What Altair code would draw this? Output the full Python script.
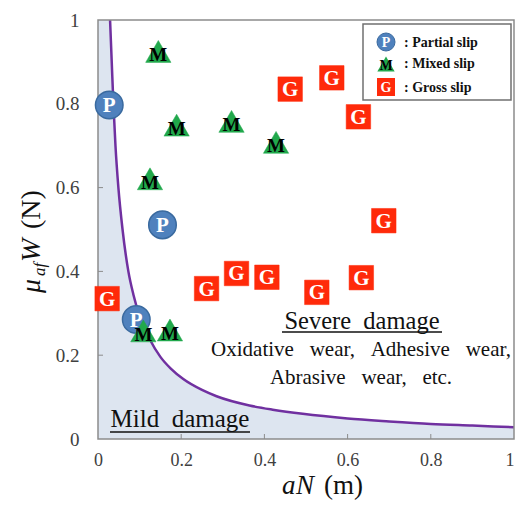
import altair as alt
import pandas as pd

# ---- data ----
partial_x = [0.027, 0.155, 0.092]
partial_y = [0.797, 0.511, 0.285]

mixed_x = [0.145, 0.189, 0.321, 0.428, 0.125, 0.109, 0.173]
mixed_y = [0.925, 0.749, 0.758, 0.708, 0.621, 0.258, 0.260]

gross_x = [0.022, 0.261, 0.333, 0.406, 0.526, 0.633, 0.462, 0.562, 0.626, 0.687]
gross_y = [0.335, 0.359, 0.395, 0.386, 0.350, 0.385, 0.835, 0.862, 0.769, 0.521]

curve_x = [0.029, 0.033, 0.037, 0.042, 0.049, 0.059, 0.073, 0.085, 0.100, 0.125,
           0.150, 0.175, 0.205, 0.250, 0.285, 0.364, 0.420, 0.492, 0.600, 0.700,
           0.800, 0.900, 1.000]
curve_y = [1.000, 0.900, 0.800, 0.700, 0.600, 0.500, 0.400, 0.345, 0.293, 0.237,
           0.196, 0.168, 0.143, 0.117, 0.102, 0.080, 0.070, 0.060, 0.049, 0.042,
           0.036, 0.032, 0.028]

tick_values = [0, 0.2, 0.4, 0.6, 0.8, 1]
inner_ticks = [0.2, 0.4, 0.6, 0.8]

legend_labels = [": Partial slip", ": Mixed slip", ": Gross slip"]

W, H = 416, 419
SERIF = "Liberation Serif"
FRAME = "#8c8c8c"
SP = " \u00a0"  # widened word gap

xs = alt.Scale(domain=[0, 1], nice=False, zero=False)
ys = alt.Scale(domain=[0, 1], nice=False, zero=False)

x_axis = alt.Axis(values=tick_values, format="~g", ticks=False, domain=False, grid=False,
                  labelFont=SERIF, labelFontSize=18, labelColor="#404040",
                  labelPadding=12, labelFlush=False, labelOverlap=False, title=None,
                  labelAlign={"condition": {"test": "datum.value >= 1", "value": "right"},
                              "value": "center"})
y_axis = alt.Axis(values=tick_values, format="~g", ticks=False, domain=False, grid=False,
                  labelFont=SERIF, labelFontSize=19, labelColor="#404040",
                  labelPadding=19, labelFlush=False, labelOverlap=False, title=None)


def X(field="x"):
    return alt.X(f"{field}:Q", scale=xs, axis=x_axis)


def Y(field="y"):
    return alt.Y(f"{field}:Q", scale=ys, axis=y_axis)


one = pd.DataFrame({"k": [0]})

area_df = pd.DataFrame({"x": [0.0] + curve_x, "y": [1.0] + curve_y})
curve_df = pd.DataFrame({"x": curve_x, "y": curve_y})

area = alt.Chart(area_df).mark_area(color="#dde5f0", interpolate="monotone", clip=True).encode(
    x=X(), y=Y())
curve = alt.Chart(curve_df).mark_line(color="#7030a0", strokeWidth=2.5,
                                      interpolate="monotone", clip=True).encode(x=X(), y=Y())

xt_df = pd.DataFrame({"x": inner_ticks})
yt_df = pd.DataFrame({"y": inner_ticks})
xticks = alt.Chart(xt_df).mark_rule(color=FRAME, strokeWidth=1).encode(
    x=X(), y=alt.value(H), y2=alt.value(H - 5))
yticks = alt.Chart(yt_df).mark_rule(color=FRAME, strokeWidth=1).encode(
    y=Y(), x=alt.value(0), x2=alt.value(5))

frame = alt.Chart(one).mark_rect(fillOpacity=0, stroke=FRAME, strokeWidth=1.5).encode(
    x=alt.value(0), x2=alt.value(W), y=alt.value(0), y2=alt.value(H))

p_df = pd.DataFrame({"x": partial_x, "y": partial_y})
m_df = pd.DataFrame({"x": mixed_x, "y": mixed_y})
g_df = pd.DataFrame({"x": gross_x, "y": gross_y})

p_sym = alt.Chart(p_df).mark_point(shape="circle", filled=True, size=760, fill="#4f81bd",
                                   stroke="#3a6a9f", strokeWidth=1.5, opacity=1).encode(x=X(), y=Y())
p_txt = alt.Chart(p_df).mark_text(text="P", font=SERIF, fontWeight="bold", fontSize=21,
                                  color="white", baseline="middle", dy=1).encode(x=X(), y=Y())
m_sym = alt.Chart(m_df).mark_point(shape="triangle-up", filled=True, size=640, fill="#21a84c",
                                   stroke="#21a84c", strokeWidth=0.5, opacity=1).encode(x=X(), y=Y())
m_txt = alt.Chart(m_df).mark_text(text="M", font=SERIF, fontWeight="bold", fontSize=19,
                                  color="black", baseline="middle", dy=4).encode(x=X(), y=Y())
g_sym = alt.Chart(g_df).mark_point(shape="square", filled=True, size=600, fill="#ff2a0a",
                                   stroke="#ff2a0a", strokeWidth=0.5, opacity=1).encode(x=X(), y=Y())
g_txt = alt.Chart(g_df).mark_text(text="G", font=SERIF, fontWeight="bold", fontSize=21,
                                  color="white", baseline="middle", dy=1).encode(x=X(), y=Y())


def label(text, px, py, size, color="#111111", **kw):
    return alt.Chart(one).mark_text(text=text, font=SERIF, fontSize=size, color=color,
                                    **kw).encode(x=alt.value(px), y=alt.value(py))


def hrule(x1, x2, py):
    return alt.Chart(one).mark_rule(color="#111111", strokeWidth=1.3).encode(
        x=alt.value(x1), x2=alt.value(x2), y=alt.value(py))


annots = [
    label(f"Severe{SP}damage", 264, 302, 24.5, baseline="middle", align="center"),
    hrule(184, 344, 312),
    label(f"Oxidative{SP}\u00a0wear,{SP}\u00a0Adhesive{SP}\u00a0wear,", 263, 330, 21,
          baseline="middle", align="center"),
    label(f"Abrasive{SP}\u00a0wear,{SP}\u00a0etc.", 263, 358, 21, baseline="middle",
          align="center"),
    label(f"Mild{SP}damage", 82, 399, 25, baseline="middle", align="center"),
    hrule(12, 152, 412),
]

# legend box
leg_box = alt.Chart(one).mark_rect(fill="white", stroke="#707070", strokeWidth=1.5).encode(
    x=alt.value(265), x2=alt.value(413), y=alt.value(4), y2=alt.value(80))
leg_y = [22, 43, 67]
LX = 288
leg = [
    alt.Chart(one).mark_point(shape="circle", filled=True, size=324, fill="#4f81bd",
                              stroke="#3a6a9f", strokeWidth=1, opacity=1).encode(
        x=alt.value(LX), y=alt.value(leg_y[0])),
    label("P", LX, leg_y[0] + 1, 14, color="white", baseline="middle", align="center",
          fontWeight="bold"),
    alt.Chart(one).mark_point(shape="triangle-up", filled=True, size=300, fill="#21a84c",
                              opacity=1).encode(x=alt.value(LX), y=alt.value(leg_y[1] + 1)),
    label("M", LX, leg_y[1] + 3, 14, color="black", baseline="middle", align="center",
          fontWeight="bold"),
    alt.Chart(one).mark_point(shape="square", filled=True, size=324, fill="#ff2a0a",
                              opacity=1).encode(x=alt.value(LX), y=alt.value(leg_y[2])),
    label("G", LX, leg_y[2] + 1, 14, color="white", baseline="middle", align="center",
          fontWeight="bold"),
]
for i, t in enumerate(legend_labels):
    leg.append(label(t, LX + 18, leg_y[i] + 1, 14, baseline="middle", align="left",
                     fontWeight="bold"))

# axis titles (with italic / subscript pieces)
titles = [
    label("a", 184, 474, 27, baseline="alphabetic", align="left", fontStyle="italic"),
    label("N", 198, 474, 27, baseline="alphabetic", align="left", fontStyle="italic"),
    label("(m)", 226, 474, 27, baseline="alphabetic", align="left"),
    label("\u03bc", -58, 273, 28, baseline="alphabetic", align="left", angle=270,
          fontStyle="italic"),
    label("af", -53, 256, 17, baseline="alphabetic", align="left", angle=270,
          fontStyle="italic"),
    label("W", -58, 242, 28, baseline="alphabetic", align="left", angle=270,
          fontStyle="italic"),
    label("(N)", -58, 209, 28, baseline="alphabetic", align="left", angle=270),
]

chart = alt.layer(
    area, curve, xticks, yticks, frame,
    p_sym, p_txt, m_sym, m_txt, g_sym, g_txt,
    *annots, leg_box, *leg, *titles
).properties(
    width=W, height=H,
    autosize=alt.AutoSizeParams(type="none"),
    padding={"left": 90, "top": 12, "right": 1, "bottom": 62},
).configure_view(stroke="transparent").configure_axis(labelFont=SERIF)

chart.save("out.html", embed_options={"renderer": "svg", "actions": False})
